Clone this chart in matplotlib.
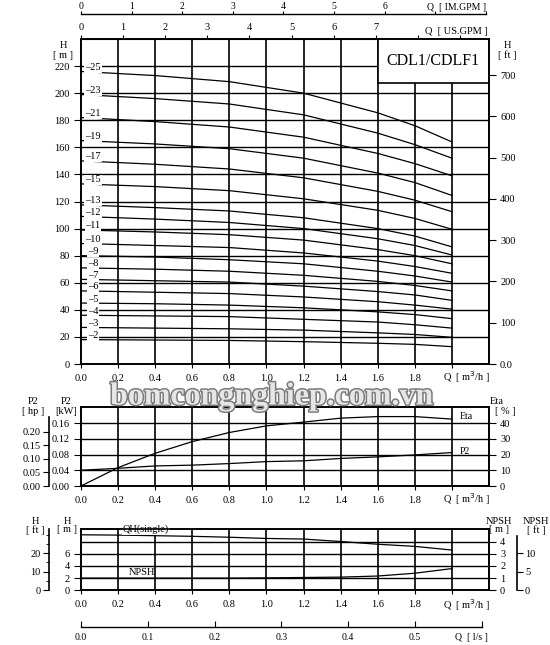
import numpy as np
import matplotlib
matplotlib.use('Agg')
import matplotlib.pyplot as plt
import matplotlib.patheffects as pe
from matplotlib.patches import Rectangle

plt.rcParams['font.family'] = ['Liberation Serif', 'DejaVu Serif']
plt.rcParams['font.size'] = 7.5

# ---- data ----
q_stage = [0, 0.4, 0.8, 1.2, 1.6, 1.8, 2.0]          # m3/h
h25 = [216, 213, 208.5, 200, 185.5, 176, 164]
h23 = [199, 196, 192, 184, 170.5, 162, 152]
h21 = [182, 179, 175, 167.5, 155.5, 148, 139]
h19 = [165, 162.5, 159, 152, 141, 134, 124.5]
h17 = [150, 147.5, 144, 137.5, 127.5, 121, 112.5]
h15 = [133, 131, 128, 122, 113.5, 107.5, 99.5]
h13 = [117.5, 115.5, 113, 108, 100, 94.5, 86.5]
h12 = [109, 107, 104.5, 100, 92.5, 87.5, 80.5]
h11 = [99, 97.5, 95.5, 91.5, 84.5, 80, 74]
h10 = [89, 87.5, 86, 82, 76, 72, 67]
h9 = [80, 79, 77, 74, 68.5, 65, 60.5]
h8 = [71, 70, 68.5, 65.5, 61, 58, 54]
h7 = [62.5, 61.5, 60.5, 57.5, 53.5, 51, 47]
h6 = [54, 53, 52, 49.5, 46, 43.5, 40.5]
h5 = [45, 44.5, 43.5, 41.5, 38.5, 36.5, 33.5]
h4 = [36, 35.5, 35, 33, 31, 29, 26.5]
h3 = [27, 26.5, 26, 25, 23, 21.8, 19.7]
h2 = [18, 17.7, 17.4, 16.5, 15.3, 14.5, 12.8]
stage_curves = {25: h25, 23: h23, 21: h21, 19: h19, 17: h17, 15: h15, 13: h13,
                12: h12, 11: h11, 10: h10, 9: h9, 8: h8, 7: h7, 6: h6, 5: h5,
                4: h4, 3: h3, 2: h2}

q_perf = [0, 0.2, 0.4, 0.6, 0.8, 1.0, 1.2, 1.4, 1.6, 1.8, 2.0]
eta = [0, 11.7, 20.8, 28.2, 34, 38.2, 40.6, 43.1, 44.1, 44.1, 42.5]        # %
p2 = [0.040, 0.045, 0.051, 0.053, 0.057, 0.062, 0.064, 0.070, 0.074, 0.079, 0.085]  # kW
qh_single = [9.1, 9.05, 8.95, 8.85, 8.7, 8.5, 8.4, 8.0, 7.55, 7.2, 6.6]    # m
npsh = [1.0, 1.0, 1.0, 1.0, 1.0, 1.02, 1.05, 1.08, 1.17, 1.4, 1.78]        # m

W, H = 550, 645
fig = plt.figure(figsize=(5.5, 6.45), dpi=100)


def fx(px):
    return px / W


def fy(py):
    return 1 - py / H


def frame(ax, ymax):
    ax.set_xlim(0, 2.2)
    ax.set_ylim(0, ymax)
    for s in ax.spines.values():
        s.set_linewidth(1.2)
    for x in np.arange(0.2, 2.01, 0.2):
        ax.axvline(x, color='k', lw=1.2, zorder=1)
    ax.set_xticks(np.arange(0, 2.01, 0.2))
    ax.set_xticklabels(['%.1f' % v for v in np.arange(0, 1.81, 0.2)] + [''])
    ax.tick_params(axis='x', direction='out', length=3, pad=4)
    ax.tick_params(axis='y', direction='out', length=5, pad=3)


L, R = 81, 489
QLAB = 'Q  [ m$^3$/h ]'

# ---------------- main QH panel ----------------
ax = fig.add_axes([fx(L), fy(364), fx(R) - fx(L), fy(39) - fy(364)])
frame(ax, 240)
for y in range(20, 221, 20):
    ax.axhline(y, color='k', lw=1.0, zorder=1)
ax.set_yticks(range(0, 221, 20))
for st, hv in stage_curves.items():
    ax.plot(q_stage, hv, color='k', lw=0.9, zorder=2)
    ax.text(0.065, hv[0] + 3, '\u2013' + str(st), ha='center', va='center', fontsize=7.5,
            bbox=dict(fc='white', ec='none', pad=0.6), zorder=4)
ax.add_patch(Rectangle((1.6, 207.5), 0.6, 32.5, fc='white', ec='k', lw=1.2, zorder=3))
ax.text(1.9, 224, 'CDL1/CDLF1', ha='center', va='center', fontsize=11.5, zorder=4)
fig.text(fx(467), fy(377), QLAB, ha='center', va='center')

ax_ft = ax.twinx()
ax_ft.set_ylim(0, 240 * 3.28084)
ax_ft.set_yticks(range(0, 701, 100))
ax_ft.set_yticklabels(['0.0'] + [str(v) for v in range(100, 701, 100)])
ax_ft.tick_params(direction='out', length=5, pad=3)
for s in ax_ft.spines.values():
    s.set_linewidth(1.2)

us = ax.secondary_xaxis('top', functions=(lambda x: x * 4.4029, lambda x: x / 4.4029))
us.set_xticks(range(0, 10))
us.set_xticklabels([str(i) for i in range(8)] + ['', ''])
us.tick_params(direction='out', length=3, pad=2)
fig.text(fx(456), fy(31), 'Q  [ US.GPM ]', ha='center', va='center')

fig.text(fx(63), fy(45), 'H', ha='center', va='center')
fig.text(fx(63), fy(55), '[ m ]', ha='center', va='center')
fig.text(fx(507), fy(45), 'H', ha='center', va='center')
fig.text(fx(507), fy(55), '[ ft ]', ha='center', va='center')

# IM.GPM scale on top
ax_im = fig.add_axes([fx(L), fy(14.5), fx(R) - fx(L), 0.0001])
ax_im.set_xlim(0, 2.2 * 3.6662)
ax_im.patch.set_visible(False)
for k in ['left', 'right', 'bottom']:
    ax_im.spines[k].set_visible(False)
ax_im.spines['top'].set_bounds(0, 8)
ax_im.spines['top'].set_linewidth(1.0)
ax_im.set_yticks([])
ax_im.set_xticks(range(0, 9))
ax_im.set_xticklabels([str(i) for i in range(7)] + ['', ''])
ax_im.tick_params(axis='x', top=True, labeltop=True, bottom=False, labelbottom=False,
                  direction='out', length=2, pad=0.5, labelsize=7)
fig.text(fx(457), fy(7), 'Q  [ IM.GPM ]', ha='center', va='center', fontsize=7)

# ---------------- P2 / Eta panel ----------------
ax_p = fig.add_axes([fx(L), fy(486), fx(R) - fx(L), fy(407.3) - fy(486)])
frame(ax_p, 0.2)
for y in [0.04, 0.08, 0.12, 0.16]:
    ax_p.axhline(y, color='k', lw=1.0, zorder=1)
ax_p.set_yticks([0, 0.04, 0.08, 0.12, 0.16])
ax_p.set_yticklabels(['0.00', '0.04', '0.08', '0.12', '0.16'])
ax_p.plot(q_perf, p2, color='k', lw=0.9, zorder=2)
ax_e = ax_p.twinx()
ax_e.set_ylim(0, 50)
ax_e.set_yticks(range(0, 41, 10))
ax_e.tick_params(direction='out', length=5, pad=3)
for s in ax_e.spines.values():
    s.set_linewidth(1.2)
ax_e.plot(q_perf, eta, color='k', lw=0.9, zorder=2)
ax_e.text(2.04, 44, 'Eta', ha='left', va='center', fontsize=7)
ax_e.text(2.04, 21.8, 'P2', ha='left', va='center', fontsize=7)
fig.text(fx(467), fy(499), QLAB, ha='center', va='center')

ax_hp = fig.add_axes([fx(49.3), fy(486), 0.0001, fy(407.3) - fy(486)])
ax_hp.set_ylim(0, 0.289)
ax_hp.patch.set_visible(False)
for k in ['right', 'top', 'bottom']:
    ax_hp.spines[k].set_visible(False)
ax_hp.spines['left'].set_bounds(0, 0.255)
ax_hp.spines['left'].set_linewidth(1.2)
ax_hp.set_xticks([])
ax_hp.set_yticks([0, 0.05, 0.10, 0.15, 0.20])
ax_hp.set_yticklabels(['0.00', '0.05', '0.10', '0.15', '0.20'])
ax_hp.tick_params(direction='out', length=4, pad=2)

fig.text(fx(33), fy(401), 'P2', ha='center', va='center')
fig.text(fx(33), fy(411), '[ hp ]', ha='center', va='center')
fig.text(fx(66), fy(401), 'P2', ha='center', va='center')
fig.text(fx(66), fy(411), '[kW]', ha='center', va='center')
fig.text(fx(497), fy(401), 'Eta', ha='center', va='center')
fig.text(fx(505), fy(411), '[ % ]', ha='center', va='center')

# watermark
fig.text(fx(272), fy(397), 'bomcongnghiep.com.vn', ha='center', va='center',
         fontsize=23, fontweight='bold', color='#e6e6e6', zorder=10,
         path_effects=[pe.withStroke(linewidth=2.2, foreground='#7c7c7c')])

# ---------------- QH single / NPSH panel ----------------
ax_n = fig.add_axes([fx(L), fy(590.3), fx(R) - fx(L), fy(529.3) - fy(590.3)])
frame(ax_n, 10)
for y in [2, 4, 6, 8]:
    ax_n.axhline(y, color='k', lw=1.0, zorder=1)
ax_n.set_yticks([0, 2, 4, 6])
ax_n.plot(q_perf, qh_single, color='k', lw=0.9, zorder=2)
ax_n.text(0.35, 10, 'QH(single)', ha='center', va='center', fontsize=7.5,
          bbox=dict(fc='white', ec='none', pad=0.5), zorder=4)
ax_n.text(0.33, 2.95, 'NPSH', ha='center', va='center', fontsize=7.5)
fig.text(fx(467), fy(605), QLAB, ha='center', va='center')

ax_nm = ax_n.twinx()
ax_nm.set_ylim(0, 5)
ax_nm.set_yticks(range(0, 5))
ax_nm.tick_params(direction='out', length=5, pad=3)
for s in ax_nm.spines.values():
    s.set_linewidth(1.2)
ax_nm.plot(q_perf, npsh, color='k', lw=0.9, zorder=2)

ax_hft = fig.add_axes([fx(48.7), fy(590.3), 0.0001, fy(529.3) - fy(590.3)])
ax_hft.set_ylim(0, 10 * 3.28084)
ax_hft.patch.set_visible(False)
for k in ['right', 'top', 'bottom']:
    ax_hft.spines[k].set_visible(False)
ax_hft.spines['left'].set_linewidth(1.2)
ax_hft.set_xticks([])
ax_hft.set_yticks([0, 10, 20])
ax_hft.set_yticks([5, 15, 25, 30], minor=True)
ax_hft.tick_params(which='major', direction='out', length=4, pad=2)
ax_hft.tick_params(which='minor', direction='out', length=2)

ax_nft = fig.add_axes([fx(516.7), fy(590.3), 0.0001, fy(529.3) - fy(590.3)])
ax_nft.set_ylim(0, 5 * 3.28084)
ax_nft.patch.set_visible(False)
for k in ['left', 'top', 'bottom']:
    ax_nft.spines[k].set_visible(False)
ax_nft.spines['right'].set_bounds(0, 14.5)
ax_nft.spines['right'].set_linewidth(1.2)
ax_nft.set_xticks([])
ax_nft.yaxis.tick_right()
ax_nft.set_yticks([0, 5, 10])
ax_nft.tick_params(direction='out', length=4, pad=2)

fig.text(fx(35), fy(522), 'H', ha='center', va='center')
fig.text(fx(35), fy(530), '[ ft ]', ha='center', va='center')
fig.text(fx(67), fy(522), 'H', ha='center', va='center')
fig.text(fx(67), fy(530), '[ m ]', ha='center', va='center')
fig.text(fx(499), fy(521), 'NPSH', ha='center', va='center')
fig.text(fx(499), fy(530), '[ m ]', ha='center', va='center')
fig.text(fx(536), fy(521), 'NPSH', ha='center', va='center')
fig.text(fx(536), fy(530), '[ ft ]', ha='center', va='center')

# l/s scale at the bottom
ax_ls = fig.add_axes([fx(L), fy(626.7), fx(R) - fx(L), 0.0001])
ax_ls.set_xlim(0, 2.2 / 3.6)
ax_ls.patch.set_visible(False)
for k in ['left', 'right', 'top']:
    ax_ls.spines[k].set_visible(False)
ax_ls.spines['bottom'].set_bounds(0, 0.6)
ax_ls.spines['bottom'].set_linewidth(1.0)
ax_ls.set_yticks([])
ax_ls.set_xticks(np.arange(0, 0.61, 0.1))
ax_ls.set_xticklabels(['%.1f' % v for v in np.arange(0, 0.51, 0.1)] + [''])
ax_ls.tick_params(axis='x', direction='in', length=4, pad=4.5, labelsize=7)
fig.text(fx(471), fy(637.5), 'Q  [ l/s ]', ha='center', va='center', fontsize=7)

fig.savefig('out.png', dpi=100)
